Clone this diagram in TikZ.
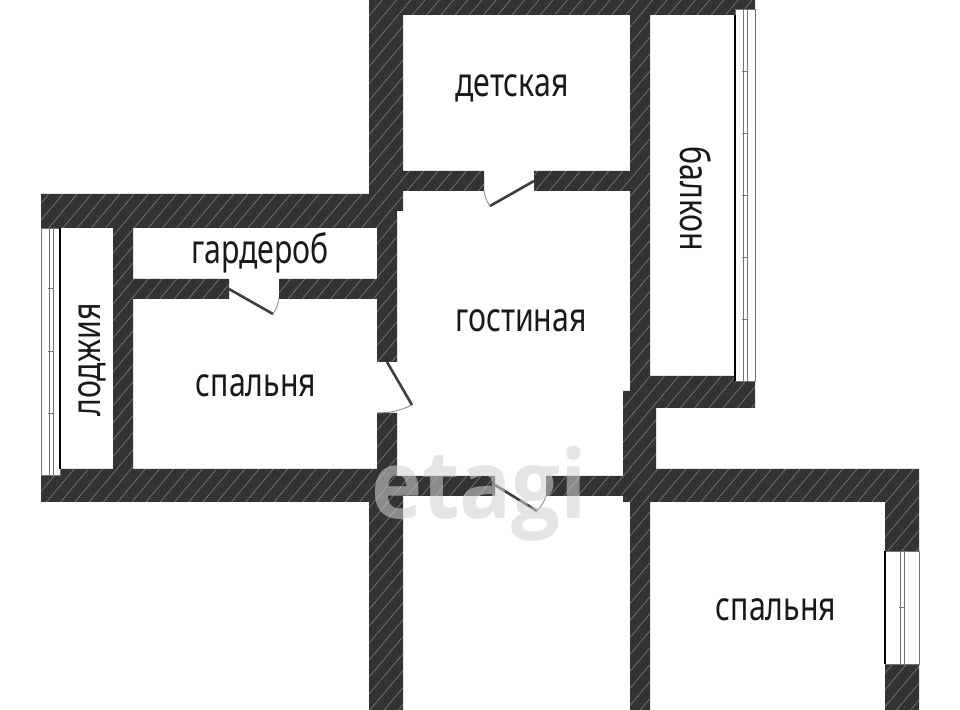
\documentclass[tikz,border=0pt]{standalone}
\usepackage{fontspec}
\usetikzlibrary{patterns.meta}
\newfontfamily\roomfont[FakeStretch=.755]{Noto Sans}
\newfontfamily\markfont[FakeStretch=.91]{Open Sans}
\definecolor{wallgray}{HTML}{333333}
\tikzset{
  wall/.style={fill=wallgray, postaction={pattern={Lines[angle=50,distance=3.1pt,line width=.14pt]}, pattern color=black!45}},
  room/.style={font=\roomfont\fontsize{11.4}{12}\selectfont, text=black!90, inner sep=0pt},
  pane/.style={draw=black!55, line width=.2pt, fill=white},
  leaf/.style={draw=black!75, line width=.75pt},
  swing/.style={draw=black!45, line width=.25pt}
}
\begin{document}
\begin{tikzpicture}[x=.01cm, y=-.01cm]
\useasboundingbox (0,0) rectangle (960,710);

% walls
\path[wall] (369,0) rectangle (755,15)
  (369,0) rectangle (403,211)
  (397,171) rectangle (484,191)
  (534,171) rectangle (650,191)
  (630,15) rectangle (650,391)
  (41,194) rectangle (397,228)
  (113,228) rectangle (133,469)
  (133,279) rectangle (229,299)
  (279,279) rectangle (397,299)
  (377,228) rectangle (397,362)
  (377,413) rectangle (397,469)
  (41,469) rectangle (397,502)
  (369,476) rectangle (403,710)
  (403,476) rectangle (495,496)
  (546,476) rectangle (650,496)
  (623,391) rectangle (656,502)
  (650,376) rectangle (755,408)
  (630,469) rectangle (919,502)
  (630,502) rectangle (650,710)
  (885,502) rectangle (919,551)
  (885,664) rectangle (919,710);

% windows
\path[pane] (735,9) rectangle (755,381);
\draw[pane] (743,9) -- (743,381) (747,9) -- (747,381);
\draw[black, line width=.3pt] (735,15) -- (735,381);
\foreach \y in {71,133,195,257,319}
\draw[pane] (742,\y) -- (748,\y);

\path[pane] (41,228) rectangle (60,475);
\draw[pane] (49,228) -- (49,475) (53,228) -- (53,475);
\draw[black, line width=.3pt] (60,228) -- (60,469);
\foreach \y in {288,351,413}
\draw[pane] (48,\y) -- (54,\y);

\path[pane] (885,551) rectangle (919,664);
\draw[pane] (900,551) -- (900,664) (904,551) -- (904,664);
\draw[black, line width=.3pt] (885,551) -- (885,664);
\draw[pane] (899,607) -- (905,607);

% doors
\coordinate (doorA) at (534,181);
\coordinate (doorAend) at (490,206);
\coordinate (doorB) at (229,289);
\coordinate (doorBend) at (273,314);
\coordinate (doorC) at (387,362);
\coordinate (doorCend) at (412,405);
\coordinate (doorD) at (495,485);
\coordinate (doorDend) at (537,511);
\draw[leaf] (doorA) -- (doorAend);
\draw[swing] (doorAend) to[bend left=12] (484,191);
\draw[leaf] (doorB) -- (doorBend);
\draw[swing] (doorBend) to[bend right=12] (279,298);
\draw[leaf] (doorC) -- (doorCend);
\draw[swing] (doorCend) to[bend left=12] (377,413);
\draw[leaf] (doorD) -- (doorDend);
\draw[swing] (doorDend) to[bend right=12] (546,496);

% labels
\node[room] (kids) at (512,88) {детская};
\node[room, rotate=-90] (balcony) at (696,199) {балкон};
\node[room] (closet) at (260,253) {гардероб};
\node[room] (living) at (521,321) {гостиная};
\node[room] (bedA) at (256,386) {спальня};
\node[room, rotate=90] (loggia) at (92,360) {лоджия};
\node[room] (bedB) at (776,610) {спальня};

% watermark
\node[font=\markfont\bfseries\fontsize{27}{27}\selectfont, text=black!18, text opacity=.56, inner sep=0pt] (mark) at (479,494) {etagi};
\end{tikzpicture}
\end{document}
